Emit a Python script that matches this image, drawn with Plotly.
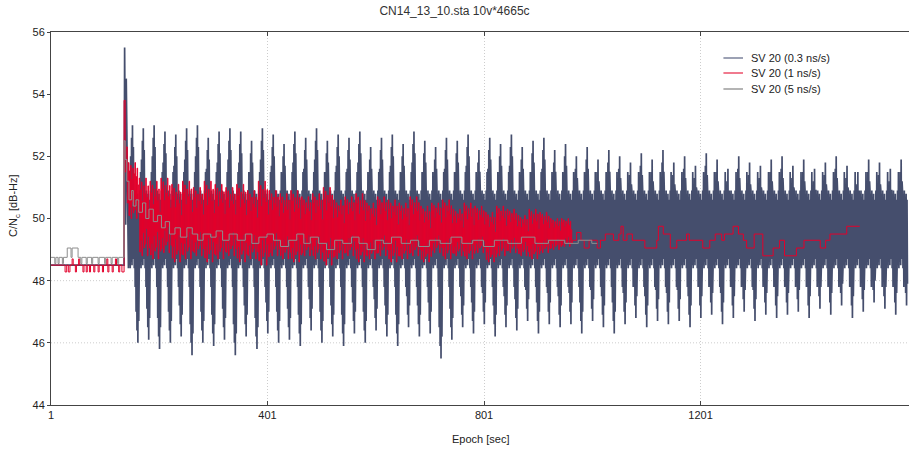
import plotly.graph_objects as go

# ---------------- data ----------------
# SV 20 (0.3 ns/s): start, then per-cycle spike extremes (20-epoch cycles)
navy_pre_epoch = [1, 136, 137, 139, 140, 142]
navy_pre_val = [48.5, 48.5, 55.5, 49.8, 54.5, 49.9]
navy_cycle_start = 144
navy_cycle_len = 20
navy_hi = [53.0, 52.9, 53.0, 52.8, 52.7, 52.9, 53.0, 52.6, 52.8, 52.9,
           52.8, 52.5, 52.9, 52.7, 52.4, 52.8, 52.6, 52.9, 52.5, 52.7,
           52.6, 52.8, 52.3, 52.6, 52.7, 52.4, 52.8, 52.5, 52.3, 52.6,
           52.5, 52.7, 52.2, 52.6, 52.4, 52.7, 52.3, 52.5, 52.6, 52.2,
           52.4, 52.0, 52.3, 51.9, 52.2, 52.0, 51.8, 52.1, 51.9, 52.2,
           51.8, 52.0, 51.7, 52.1, 51.9, 51.6, 52.0, 51.8, 51.7, 51.9,
           52.0, 51.7, 51.9, 51.6, 51.8, 52.0, 51.7, 51.5, 51.9, 51.8, 51.6, 51.9]
navy_lo = [46.0, 46.1, 45.8, 46.0, 46.2, 45.6, 46.0, 45.9, 46.1, 45.6,
           46.2, 45.8, 46.3, 46.0, 46.1, 45.9, 46.4, 46.0, 46.2, 45.9,
           46.3, 46.0, 46.4, 46.2, 45.9, 46.5, 46.2, 46.3, 45.5, 46.1,
           46.5, 46.3, 46.6, 46.2, 46.5, 46.4, 46.7, 46.3, 46.6, 46.5,
           46.6, 46.3, 46.7, 46.5, 46.3, 46.6, 46.8, 46.5, 46.7, 46.6,
           46.7, 46.5, 46.8, 46.9, 46.6, 46.8, 47.0, 46.7, 46.9, 46.8,
           46.9, 47.0, 46.8, 47.1, 46.9, 47.2, 46.8, 47.0, 47.3, 47.1, 46.9, 47.2]
navy_band = [48.4, 50.9]  # lower / upper edge of the dense band

# SV 20 (1 ns/s)
red_pre_epoch = [1, 24, 27, 30, 33, 36, 40, 42, 46, 48, 52, 54, 60, 62, 66, 68, 72,
                 74, 80, 82, 88, 90, 96, 98, 104, 106, 108, 114, 116, 120, 122, 126,
                 128, 132, 136, 138, 140, 142]
red_pre_val = [48.5, 48.5, 48.28, 48.5, 48.28, 48.5, 48.7, 48.5, 48.28, 48.5, 48.7,
               48.5, 48.28, 48.5, 48.28, 48.5, 48.28, 48.5, 48.28, 48.5, 48.28, 48.5,
               48.28, 48.5, 48.7, 48.28, 48.5, 48.28, 48.5, 48.7, 48.5, 48.28, 48.5,
               48.28, 53.8, 51.5, 52.3, 50.5]
red_block_start = 144
red_block_len = 20
red_top = [51.8, 51.3, 51.2, 51.3, 51.1, 51.2, 51.0, 51.2, 51.1, 51.0,
           51.1, 50.9, 51.2, 50.9, 50.8, 50.9, 50.7, 50.8, 51.0, 50.6,
           50.7, 50.8, 50.5, 50.7, 50.6, 50.5, 50.7, 50.4, 50.5, 50.6,
           50.3, 50.5, 50.4, 50.2, 50.4, 50.3, 50.1, 50.3, 50.2, 50.0,
           50.0]
red_bot = [50.0, 48.8, 48.7, 48.9, 48.6, 48.7, 48.8, 48.6, 48.7, 48.8,
           48.6, 48.7, 48.5, 48.8, 48.7, 48.6, 48.8, 48.7, 48.5, 48.7,
           48.8, 48.6, 48.7, 48.8, 48.6, 48.7, 48.8, 48.6, 48.9, 48.7,
           48.8, 48.7, 48.9, 48.6, 48.8, 48.9, 48.8, 48.7, 48.9, 49.0,
           49.1]
red_tail_epoch = [964, 972, 980, 986, 995, 1004, 1010, 1016, 1025, 1040, 1050, 1054,
                  1058, 1065, 1075, 1098, 1120, 1123, 1132, 1145, 1157, 1175, 1180,
                  1205, 1218, 1228, 1240, 1245, 1261, 1271, 1280, 1286, 1300, 1316,
                  1335, 1347, 1356, 1378, 1392, 1422, 1432, 1440, 1471, 1495]
red_tail_val = [49.3, 49.55, 49.3, 49.05, 49.3, 49.3, 49.05, 49.3, 49.5, 49.3, 49.5,
                49.75, 49.3, 49.5, 49.3, 49.05, 49.3, 49.75, 49.5, 49.05, 49.3, 49.5,
                49.3, 49.05, 49.3, 49.5, 49.3, 49.5, 49.75, 49.5, 49.3, 49.05, 49.5,
                48.8, 49.05, 49.3, 48.8, 49.05, 49.3, 49.05, 49.3, 49.5, 49.75, 49.75]

# SV 20 (5 ns/s)
gray_epoch = [1, 8, 10, 14, 16, 22, 24, 31, 38, 40, 51, 56, 58, 66, 68, 76, 78, 88, 90,
              100, 102, 112, 114, 124, 126, 136, 138, 141, 145, 150, 153, 158, 163, 170,
              176, 182, 190, 198, 205, 212, 220, 230, 240, 252, 262, 272, 282, 296, 306,
              318, 330, 345, 360, 372, 385, 400, 412, 425, 440, 455, 468, 480, 495, 510,
              525, 540, 556, 570, 585, 600, 615, 630, 648, 665, 680, 700, 720, 740, 760,
              780, 800, 820, 845, 870, 895, 920, 950, 975, 1000, 1010]
gray_val = [48.75, 48.55, 48.75, 48.55, 48.75, 48.55, 48.75, 49.05, 48.75, 49.05,
            48.75, 48.55, 48.75, 48.55, 48.75, 48.55, 48.75, 48.55, 48.75, 48.55,
            48.75, 48.55, 48.75, 48.55, 48.75, 52.5, 51.9, 51.2, 50.6, 50.9,
            50.4, 50.6, 50.2, 50.5, 50.0, 50.3, 49.9, 50.1, 49.7, 49.9,
            49.5, 49.7, 49.4, 49.7, 49.5, 49.3, 49.5, 49.4, 49.6, 49.3,
            49.5, 49.3, 49.5, 49.2, 49.4, 49.5, 49.3, 49.1, 49.3, 49.5,
            49.2, 49.4, 49.2, 49.0, 49.3, 49.2, 49.4, 49.2, 49.0, 49.3,
            49.2, 49.4, 49.2, 49.3, 49.1, 49.3, 49.2, 49.4, 49.2, 49.3,
            49.1, 49.3, 49.2, 49.4, 49.2, 49.3, 49.2, 49.3, 49.2, 49.2]

x_ticks = [1, 401, 801, 1201]
grid_y = [46, 48]
names = ["SV 20 (0.3 ns/s)", "SV 20 (1 ns/s)", "SV 20 (5 ns/s)"]
colors = ["#454e6d", "#e3002b", "#8e8e8e"]
legend_colors = ["#9ca1b4", "#f07a8e", "#b4b4b4"]

# ---------------- build the traces ----------------
nx, ny = list(navy_pre_epoch), list(navy_pre_val)
lo_b, hi_b = navy_band
for k, (h, l) in enumerate(zip(navy_hi, navy_lo)):
    e0 = navy_cycle_start + k * navy_cycle_len
    vals = [lo_b, hi_b, lo_b + 0.1, hi_b + 0.6, lo_b, h - 1.0, lo_b + 0.2, h - 0.4,
            lo_b + 0.1, h, lo_b + 0.3, h - 0.7,
            hi_b, lo_b, hi_b - 0.1, lo_b - 0.6, hi_b, l + 1.0, hi_b - 0.2, l + 0.4,
            hi_b - 0.1, l, hi_b - 0.3, l + 0.7]
    for j, v in enumerate(vals):
        nx.append(e0 + j * navy_cycle_len / len(vals))
        ny.append(v)

rx, ry = list(red_pre_epoch), list(red_pre_val)
frac = [1.0, 0.05, 0.85, 0.2, 0.95, 0.0, 0.7, 0.3, 0.9, 0.1,
        0.8, 0.15, 1.0, 0.35, 0.75, 0.0, 0.9, 0.25, 0.6, 0.1]
for k, (t, b) in enumerate(zip(red_top, red_bot)):
    e0 = red_block_start + k * red_block_len
    for j, f in enumerate(frac):
        rx.append(e0 + j * red_block_len / len(frac))
        ry.append(b + f * (t - b))
rx += red_tail_epoch
ry += red_tail_val

fig = go.Figure()
fig.add_trace(go.Scatter(x=nx, y=ny, mode="lines", name=names[0], showlegend=False,
                         line=dict(color=colors[0], width=1.7)))
fig.add_trace(go.Scatter(x=rx, y=ry, mode="lines", name=names[1], showlegend=False,
                         line=dict(color=colors[1], width=1, shape="hv")))
fig.add_trace(go.Scatter(x=gray_epoch, y=gray_val, mode="lines", name=names[2],
                         showlegend=False,
                         line=dict(color=colors[2], width=1, shape="hv")))

for gy in grid_y:
    fig.add_shape(type="line", xref="paper", x0=0, x1=1, yref="y", y0=gy, y1=gy,
                  line=dict(color="#cdcdcd", width=1, dash="1px,2px"), layer="below")

# legend drawn as text + sample lines (paper coordinates)
leg_x0, leg_x1, leg_tx = 0.7837, 0.8065, 0.8135
leg_y = [0.9303, 0.8901, 0.8472]
annotations = []
for nm, lc, yy in zip(names, legend_colors, leg_y):
    fig.add_shape(type="line", xref="paper", yref="paper", x0=leg_x0, x1=leg_x1,
                  y0=yy, y1=yy, line=dict(color=lc, width=2))
    annotations.append(dict(text=nm, x=leg_tx, xref="paper", y=yy, yref="paper",
                            xanchor="left", yanchor="middle", showarrow=False,
                            font=dict(size=11, color="#222")))

font = "Liberation Sans, Arial, sans-serif"
annotations += [
    dict(text="Epoch [sec]", x=0.5, xref="paper", y=-0.09, yref="paper",
         xanchor="center", yanchor="middle", showarrow=False,
         font=dict(size=11, color="#222")),
    dict(text="C/N<sub>c</sub> [dB-Hz]", x=-0.043, xref="paper", y=0.534,
         yref="paper", textangle=-90, xanchor="center", yanchor="middle",
         showarrow=False, font=dict(size=11, color="#222")),
]

fig.update_layout(
    width=909, height=450,
    margin=dict(l=51, r=0, t=32, b=45),
    paper_bgcolor="white", plot_bgcolor="white",
    title=dict(text="CN14_13_10.sta 10v*4665c", x=0.5, xref="container",
               y=0.975, yref="container", yanchor="middle",
               font=dict(family=font, size=12, color="#333")),
    font=dict(family=font, size=11, color="#222"),
    showlegend=False,
    xaxis=dict(range=[1, 1586], tickvals=x_ticks, ticktext=[str(v) for v in x_ticks],
               ticks="inside", ticklen=4, tickcolor="#444",
               showline=True, linecolor="#444", linewidth=1, mirror="ticks",
               showgrid=True, gridcolor="#cdcdcd", griddash="1px,2px", gridwidth=1,
               zeroline=False, tickfont=dict(size=11)),
    yaxis=dict(range=[44, 56], dtick=2, ticks="outside", ticklen=3, tickcolor="#444",
               showline=True, linecolor="#444", linewidth=1,
               showgrid=False, zeroline=False, tickfont=dict(size=11)),
    annotations=annotations,
)

fig.write_html("out.html")
